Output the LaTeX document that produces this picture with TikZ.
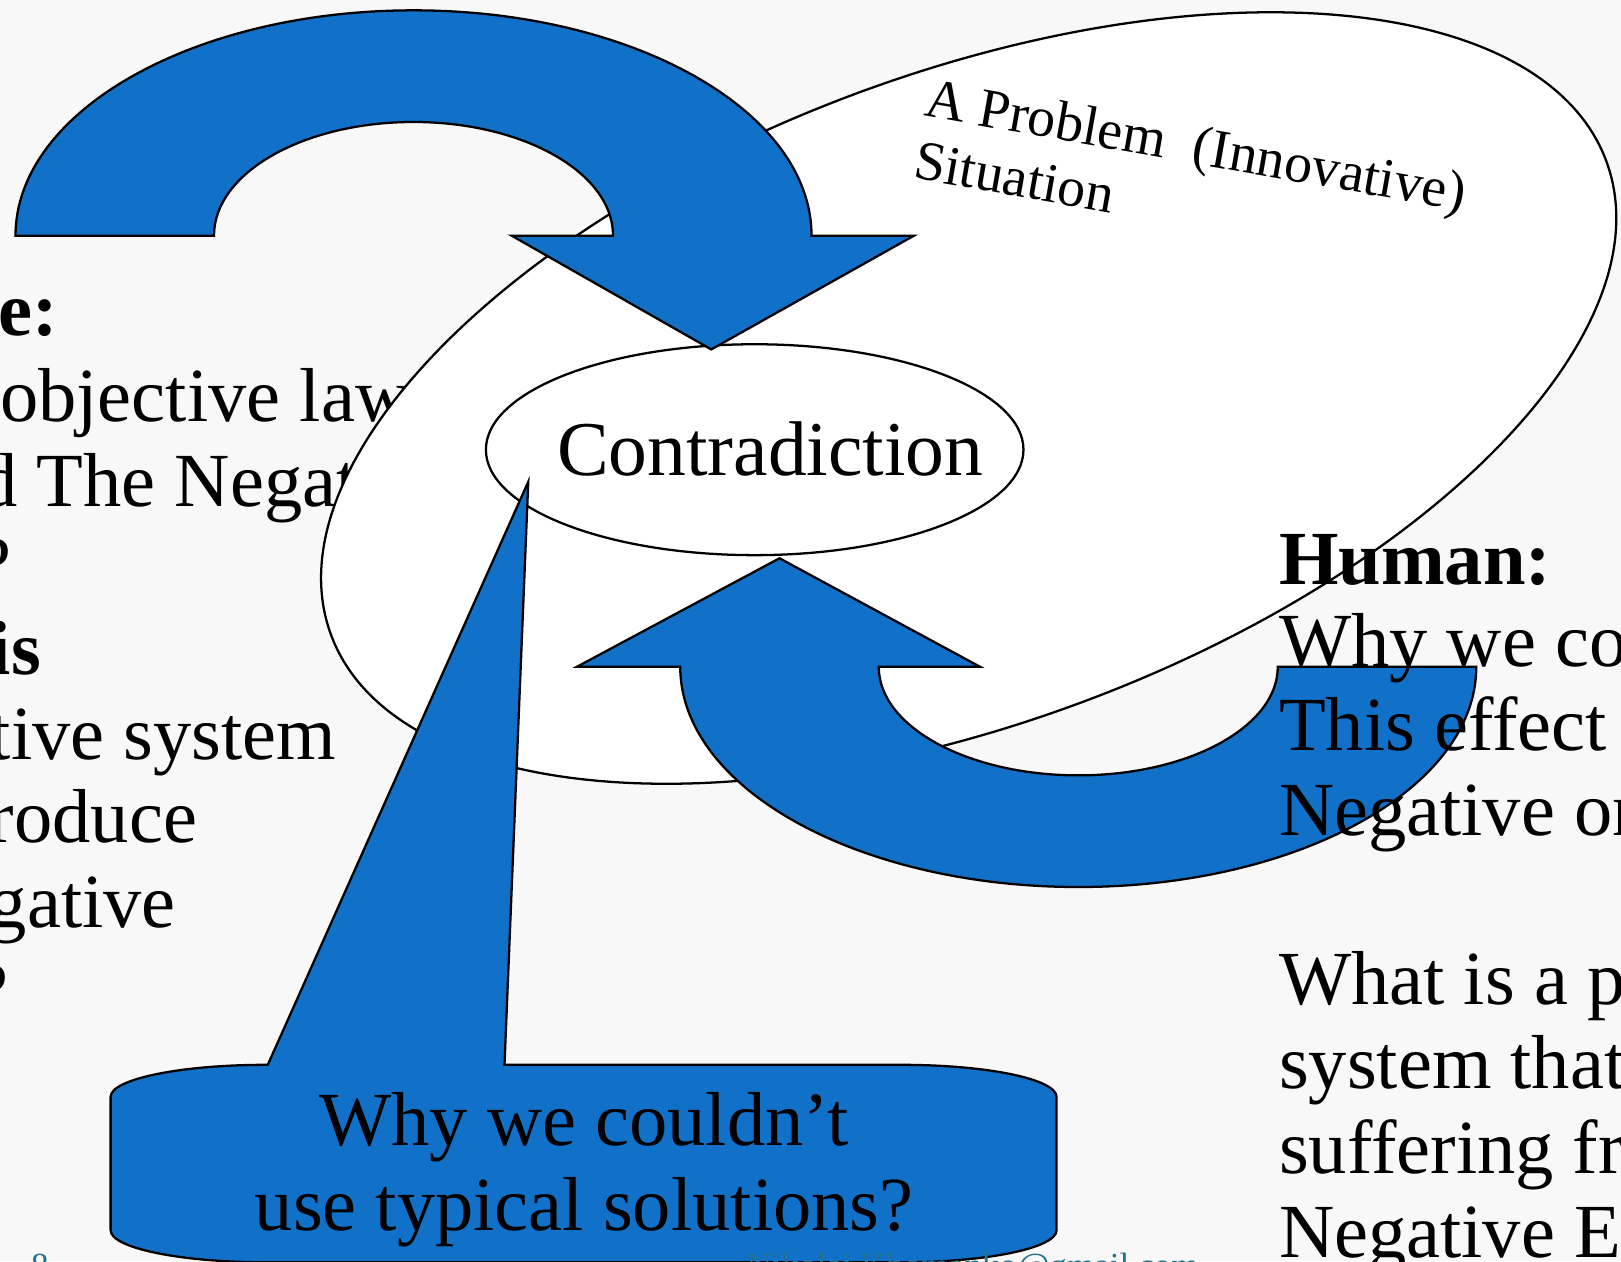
\documentclass[tikz,border=0pt]{standalone}
\usepackage{fontspec}
\setmainfont{Liberation Serif}
\usetikzlibrary{shapes.geometric}
\definecolor{shblue}{RGB}{17,112,199}
\definecolor{bgc}{RGB}{248,248,248}
\definecolor{footc}{RGB}{35,115,140}
\begin{document}
\begin{tikzpicture}[x=1pt,y=-1pt,
  outl/.style={draw=black,line width=2.2pt,line join=miter},
  bluefill/.style={outl,fill=shblue},
  whitefill/.style={outl,fill=white},
  big/.style={font=\fontsize{74}{82}\selectfont,inner sep=0pt,anchor=base west},
  bigb/.style={font=\fontsize{74}{82}\selectfont\bfseries,inner sep=0pt,anchor=base west},
  probtxt/.style={font=\fontsize{54}{60}\selectfont,inner sep=0pt,anchor=base west,rotate=-10},
  foot/.style={font=\fontsize{34}{40}\selectfont,inner sep=0pt,anchor=base west,text=footc}]
\useasboundingbox (0,0) rectangle (1568,1220);
\fill[bgc] (0,0) rectangle (1568,1220);
\clip (0,0) rectangle (1568,1220);

% left text (behind the ellipse)
\node[bigb] (l1) at (-2,325) {e:};
\node[big] (l2) at (0,408) {objective laws};
\node[big] (l3) at (-20,490) {d The Negative};
\node[big] (l4) at (-22,570) {?};
\node[bigb] (l5) at (-10,652) {is};
\node[big] (l6) at (-10,735) {tive system};
\node[big] (l7) at (-11,815) {roduce};
\node[big] (l8) at (-11,897) {gative};
\node[big] (l9) at (-25,982) {?};

% big problem-situation ellipse
\path[whitefill, rotate around={20.4:(937,385)}] (937,385) ellipse [x radius=658, y radius=314];
\node[probtxt] (prob1) at (893,112) {A Problem~~(Innovative)};
\node[probtxt] (prob2) at (882,172) {Situation};

% contradiction ellipse
\node[ellipse, whitefill, minimum width=520pt, minimum height=204pt, inner sep=0pt] (contra) at (730,435) {};
\node[font=\fontsize{75}{84}\selectfont, inner sep=0pt, anchor=base] (contratxt) at (745,460) {Contradiction};

% top U-turn arrow
\path[bluefill] (15,228) arc[start angle=180, end angle=360, x radius=385, y radius=218]
  -- (884,228) -- (688,338) -- (495,228) -- (593,228)
  arc[start angle=360, end angle=180, x radius=193, y radius=110] -- cycle;

% bottom U-turn arrow
\path[bluefill] (558,645) -- (754,540) -- (948,645) -- (850,645)
  arc[start angle=180, end angle=0, x radius=193, y radius=105]
  -- (1428,645)
  arc[start angle=0, end angle=180, x radius=385, y radius=213] -- cycle;

% callout
\path[bluefill] (259,1030) -- (511,466) -- (488,1030) -- (872,1030)
  arc[start angle=270, end angle=360, x radius=150, y radius=31]
  -- (1022,1190)
  arc[start angle=0, end angle=90, x radius=150, y radius=31]
  -- (257,1221)
  arc[start angle=90, end angle=180, x radius=150, y radius=31]
  -- (107,1061)
  arc[start angle=180, end angle=270, x radius=150, y radius=31] -- cycle;
\node[font=\fontsize{74}{82}\selectfont, inner sep=0pt, anchor=base] (call1) at (565,1108) {Why we couldn’t};
\node[font=\fontsize{74}{82}\selectfont, inner sep=0pt, anchor=base] (call2) at (565,1190) {use typical solutions?};

% footer
\node[foot] (pagenum) at (30,1236) {8};
\node[foot] (mail) at (722,1236) {Nikolai Khomenko@gmail.com};

% right text (on top)
\node[bigb] (r1) at (1237,565) {Human:};
\node[big] (r2) at (1237,645) {Why we con};
\node[big] (r3) at (1237,726) {This effect as};
\node[big] (r4) at (1237,808) {Negative one};
\node[big] (r5) at (1237,972) {What is a pr};
\node[big] (r6) at (1237,1053) {system that};
\node[big] (r7) at (1237,1135) {suffering from};
\node[big] (r8) at (1237,1216) {Negative Eff};
\end{tikzpicture}
\end{document}
